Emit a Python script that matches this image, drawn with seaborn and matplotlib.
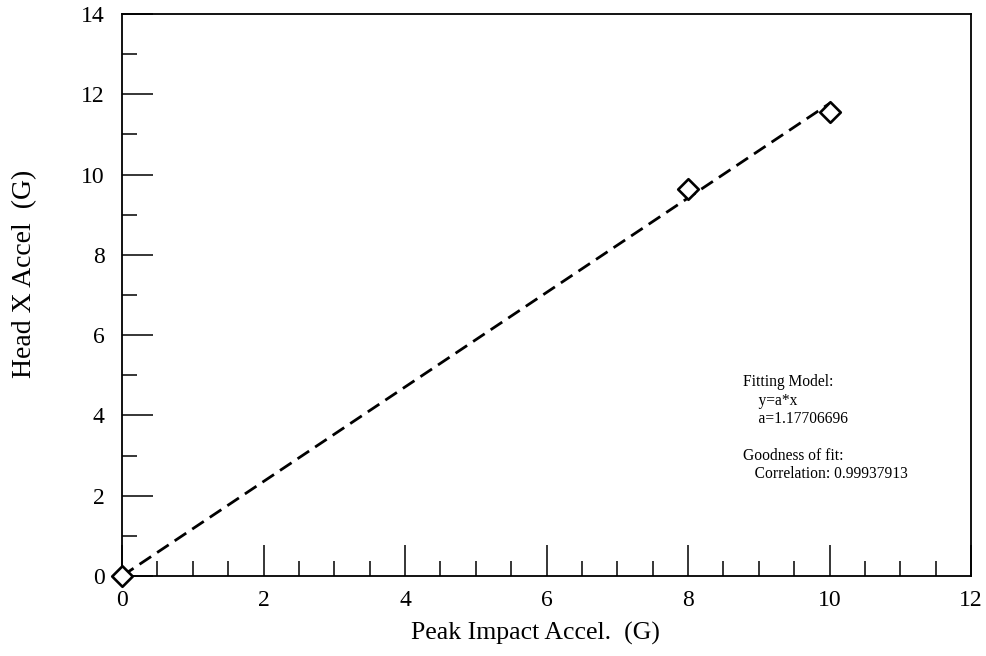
import numpy as np
import pandas as pd
import matplotlib
matplotlib.use("Agg")
import matplotlib.pyplot as plt
import seaborn as sns
from matplotlib.ticker import MultipleLocator

# Measured peak impact vs. head X acceleration
impact_g = [0.0, 8.0, 10.0]
head_x_g = [0.0, 9.65, 11.55]

# Linear fit through the origin
fit_a = 1.17706696
fit_corr = 0.99937913
fit_x = [0.0, 10.0]

x_ticks = [0, 2, 4, 6, 8, 10, 12]
y_ticks = [0, 2, 4, 6, 8, 10, 12, 14]

sns.set_theme(style="ticks")
plt.rcParams["font.family"] = ["Liberation Serif", "DejaVu Serif"]

points = pd.DataFrame({"impact": impact_g, "head": head_x_g})
fit = pd.DataFrame({"impact": fit_x, "head": [fit_a * v for v in fit_x]})

fig = plt.figure(figsize=(9.87, 6.56), dpi=100)
ax = fig.add_axes([122 / 987, 1 - 576 / 656, (971 - 122) / 987, (576 - 14) / 656])

sns.lineplot(data=fit, x="impact", y="head", ax=ax, color="black",
             linewidth=2.0, linestyle=(0, (5.0, 2.6)), zorder=2)
sns.scatterplot(data=points, x="impact", y="head", ax=ax, marker="D",
                s=110, facecolor="white", edgecolor="black", linewidth=1.9,
                zorder=3, clip_on=False)

ax.set_xlim(0, 12)
ax.set_ylim(0, 14)
ax.set_xticks(x_ticks)
ax.set_yticks(y_ticks)
ax.xaxis.set_minor_locator(MultipleLocator(0.5))
ax.yaxis.set_minor_locator(MultipleLocator(1))
ax.tick_params(axis="both", which="major", direction="in", length=22,
               width=1.1, labelsize=17, color="black", labelcolor="black")
ax.tick_params(axis="both", which="minor", direction="in", length=11,
               width=1.1, color="black")
ax.tick_params(axis="x", which="major", pad=10)
ax.tick_params(axis="y", which="major", pad=12.5)
ax.tick_params(top=False, right=False, which="both")

for side in ["left", "right", "top", "bottom"]:
    ax.spines[side].set_visible(True)
    ax.spines[side].set_color("black")
    ax.spines[side].set_linewidth(1.3)

ax.set_xlabel("Peak Impact Accel.  (G)", fontsize=18.5, color="black")
ax.xaxis.set_label_coords(0.4865, -0.081)
ax.set_ylabel("")
fig.text(25 / 987, 1 - 274 / 656, "Head X Accel  (G)", rotation=90,
         ha="center", va="center", fontsize=20, color="black")

note = ("Fitting Model:\n"
        "    y=a*x\n"
        f"    a={fit_a:.8f}\n"
        "\n"
        "Goodness of fit:\n"
        f"   Correlation: {fit_corr:.8f}")
ax.text(8.78, 5.02, note, fontsize=11.2, va="top", ha="left",
        linespacing=1.19, color="black")

fig.savefig("out.png", dpi=100, facecolor="white")
